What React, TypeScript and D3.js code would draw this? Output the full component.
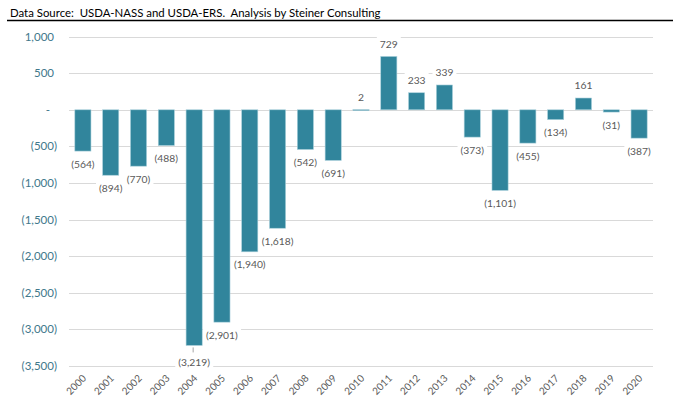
import React, { useEffect, useRef } from "react";
import * as d3 from "d3";

// yearly values
const years = [
  "2000", "2001", "2002", "2003", "2004", "2005", "2006", "2007", "2008", "2009", "2010",
  "2011", "2012", "2013", "2014", "2015", "2016", "2017", "2018", "2019", "2020",
];
const values = [
  -564, -894, -770, -488, -3219, -2901, -1940, -1618, -542, -691, 2,
  729, 233, 339, -373, -1101, -455, -134, 161, -31, -387,
];
const yTicks = [1000, 500, 0, -500, -1000, -1500, -2000, -2500, -3000, -3500];
const title = "Data Source:  USDA-NASS and USDA-ERS.  Analysis by Steiner Consulting";

const W = 673;
const H = 404;
const FONT = "Lato, 'Open Sans', sans-serif";

const fmt = (v: number) => {
  if (v === 0) return "-";
  const s = d3.format(",")(Math.abs(v));
  return v < 0 ? `(${s})` : s;
};

const App = () => {
  const ref = useRef<SVGSVGElement>(null);

  useEffect(() => {
    const svg = d3.select(ref.current);
    svg.selectAll("*").remove();

    const margin = { top: 0, left: 69, right: 20 };

    const x = d3
      .scaleBand()
      .domain(years)
      .range([margin.left, W - margin.right])
      .paddingInner(0.42)
      .paddingOuter(0.21);

    const y = d3.scaleLinear().domain([-3500, 1000]).range([366, 36.6]);

    // title + rule
    svg
      .append("text")
      .attr("x", 10)
      .attr("y", 17)
      .attr("font-family", FONT)
      .attr("font-size", 11.4)
      .attr("fill", "#000")
      .style("white-space", "pre")
      .text(title);
    svg
      .append("line")
      .attr("x1", 7)
      .attr("x2", W)
      .attr("y1", 20.5)
      .attr("y2", 20.5)
      .attr("stroke", "#000")
      .attr("stroke-width", 1.5);

    // grid
    svg
      .append("g")
      .selectAll("line")
      .data(yTicks)
      .enter()
      .append("line")
      .attr("x1", margin.left)
      .attr("x2", W - margin.right)
      .attr("y1", (d) => Math.round(y(d)) + 0.5)
      .attr("y2", (d) => Math.round(y(d)) + 0.5)
      .attr("stroke", "#d9d9d9")
      .attr("stroke-width", 1);

    // y labels (accounting style)
    svg
      .append("g")
      .selectAll("text")
      .data(yTicks)
      .enter()
      .append("text")
      .attr("x", (d) => (d === 0 ? 50 : d > 0 ? 54 : 57))
      .attr("y", (d) => y(d))
      .attr("dy", "0.35em")
      .attr("text-anchor", "end")
      .attr("font-family", FONT)
      .attr("font-size", 11.5)
      .attr("fill", "#41788b")
      .text((d) => fmt(d));

    // bars
    const data = years.map((yr, i) => ({ year: yr, value: values[i] }));
    svg
      .append("g")
      .selectAll("rect")
      .data(data)
      .enter()
      .append("rect")
      .attr("x", (d) => x(d.year)!)
      .attr("width", x.bandwidth())
      .attr("y", (d) => Math.min(y(d.value), y(0)))
      .attr("height", (d) => Math.max(1, Math.abs(y(d.value) - y(0))))
      .attr("fill", "#31859c")
      .attr("stroke", "#a9d0db")
      .attr("stroke-width", 0.6);

    // data labels with white boxes
    const labels = svg.append("g");
    data.forEach((d) => {
      const cx = x(d.year)! + x.bandwidth() / 2;
      const leader = d.year === "2004";
      const cy =
        d.value >= 0 ? y(d.value) - 12.5 : y(d.value) + (leader ? 17 : 13);
      const g = labels.append("g");
      const rect = g.append("rect").attr("fill", "#fff");
      const t = g
        .append("text")
        .attr("x", cx)
        .attr("y", cy)
        .attr("dy", "0.35em")
        .attr("text-anchor", "middle")
        .attr("font-family", FONT)
        .attr("font-size", 10.3)
        .attr("fill", "#595959")
        .text(fmt(d.value));
      const bb = (t.node() as SVGTextElement).getBBox();
      rect
        .attr("x", bb.x - 3)
        .attr("y", bb.y - 1)
        .attr("width", bb.width + 6)
        .attr("height", bb.height + 2);
      if (leader) {
        g.append("line")
          .attr("x1", cx - 1)
          .attr("x2", cx - 1)
          .attr("y1", y(d.value) + 2)
          .attr("y2", y(d.value) + 7)
          .attr("stroke", "#a6a6a6")
          .attr("stroke-width", 1);
      }
    });

    // x labels, rotated
    svg
      .append("g")
      .selectAll("text")
      .data(years)
      .enter()
      .append("text")
      .attr(
        "transform",
        (d) => `translate(${x(d)! + x.bandwidth() / 2 + 4},${379}) rotate(-45)`
      )
      .attr("text-anchor", "end")
      .attr("font-family", FONT)
      .attr("font-size", 10)
      .attr("fill", "#595959")
      .text((d) => d);
  }, []);

  return (
    <svg
      ref={ref}
      width={W}
      height={H}
      style={{ position: "absolute", left: 0, top: 0, background: "#fff", display: "block" }}
    />
  );
};

export default App;
